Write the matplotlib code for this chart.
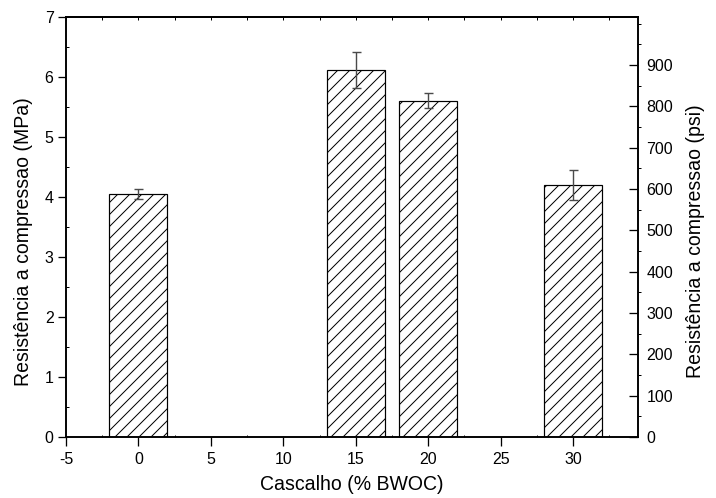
import matplotlib
matplotlib.use("Agg")
import matplotlib.pyplot as plt
from matplotlib.ticker import MultipleLocator, FixedLocator

plt.rcParams['font.family'] = ['Liberation Sans', 'DejaVu Sans']
plt.rcParams['hatch.linewidth'] = 1.0
plt.rcParams['axes.unicode_minus'] = False

# Data
cascalho = [0, 15, 20, 30]
resist_mpa = [4.05, 6.12, 5.61, 4.20]
err_mpa = [0.08, 0.30, 0.13, 0.25]
MPA_TO_PSI = 145.038

DPI = 72
fig = plt.figure(figsize=(716 / DPI, 498 / DPI), dpi=DPI)
ax = fig.add_axes([66 / 716, 1 - 437 / 498, (638.3 - 66) / 716, (437 - 17.3) / 498])

ax.bar(cascalho, resist_mpa, width=4, color='white', edgecolor='black',
       linewidth=1.2, hatch='//', zorder=2)
ax.errorbar(cascalho, resist_mpa, yerr=err_mpa, fmt='none', ecolor='#4a4a4a',
            elinewidth=1.4, capsize=4.5, capthick=1.4, zorder=3)

ax.set_xlim(-5, 34.5)
ax.set_ylim(0, 7)
ax.xaxis.set_major_locator(MultipleLocator(5))
ax.xaxis.set_minor_locator(MultipleLocator(2.5))
ax.yaxis.set_major_locator(MultipleLocator(1))
ax.yaxis.set_minor_locator(MultipleLocator(0.5))
ax.tick_params(axis='both', which='major', direction='out', length=8.5, width=1.3,
               labelsize=16, pad=4)
ax.tick_params(axis='x', which='major', pad=6)
ax.tick_params(axis='both', which='minor', direction='in', length=2.5, width=1.0)
for s in ax.spines.values():
    s.set_linewidth(1.6)

ax.set_xlabel('Cascalho (% BWOC)', fontsize=19.5, labelpad=9)
ax.set_ylabel('Resistência a compressao (MPa)', fontsize=19.5)
ax.yaxis.set_label_coords(-0.057, 0.466)

# top ticks (tiny, inward)
top = ax.secondary_xaxis('top')
top.xaxis.set_major_locator(MultipleLocator(2.5))
top.tick_params(axis='x', which='major', direction='in', length=2.5, width=1.0,
                labeltop=False)
top.spines['top'].set_linewidth(1.6)

# right axis in psi
ax2 = ax.twinx()
ax2.set_ylim(0, 7 * MPA_TO_PSI)
ax2.yaxis.set_major_locator(FixedLocator(list(range(0, 1000, 100))))
ax2.yaxis.set_minor_locator(MultipleLocator(50))
ax2.tick_params(axis='y', which='major', direction='in', length=9, width=1.3,
                labelsize=16, pad=8)
ax2.tick_params(axis='y', which='minor', direction='out', length=2.5, width=1.0)
for s in ax2.spines.values():
    s.set_linewidth(1.6)
ax2.set_ylabel('Resistência a compressao (psi)', fontsize=19.5)
ax2.yaxis.set_label_coords(1.083, 0.466)

fig.savefig('out.png', dpi=DPI)
